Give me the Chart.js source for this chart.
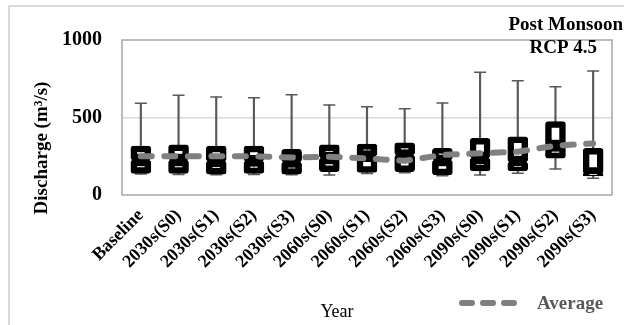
<!DOCTYPE html>
<html>
<head>
<meta charset="utf-8">
<script src="https://cdn.jsdelivr.net/npm/chart.js@4.4.1/dist/chart.umd.min.js"></script>
<style>
  html, body { margin: 0; padding: 0; background: #fff; }
  #wrap { position: relative; width: 624px; height: 325px; overflow: hidden; }
  #frame { position: absolute; left: 8px; top: 5px; width: 700px; height: 400px;
           border: 2px solid #d9d9d9; pointer-events: none; }
</style>
</head>
<body>
<div id="wrap">
  <canvas id="chart" width="624" height="325"></canvas>
  <div id="frame"></div>
</div>
<script>
/* ---- Data ---- */

const categories = [
  "Baseline", "2030s(S0)", "2030s(S1)", "2030s(S2)", "2030s(S3)",
  "2060s(S0)", "2060s(S1)", "2060s(S2)", "2060s(S3)",
  "2090s(S0)", "2090s(S1)", "2090s(S2)", "2090s(S3)",
];

const maxVals = [592, 643, 632, 628, 647, 581, 570, 557, 594, 792, 737, 699, 800];
const q3Vals = [316, 323, 316, 316, 295, 323, 329, 337, 301, 366, 376, 473, 301];
const medianVals = [226, 226, 219, 219, 213, 239, 252, 258, 226, 239, 213, 316, 140];
const q1Vals = [140, 140, 135, 140, 135, 150, 145, 150, 129, 155, 155, 237, 123];
const minVals = [135, 132, 130, 133, 130, 129, 138, 144, 125, 129, 140, 168, 108];
const averageVals = [250, 250, 250, 250, 242, 247, 236, 221, 258, 269, 279, 318, 333];

const yTicks = [0, 500, 1000];

/* ---- Theme ---- */

const serif = "'Liberation Serif', 'Times New Roman', serif";
const whiskerColor = "#595959";
const averageColor = "#808080";
const frameColor = "#a6a6a6";

const boxStyle = {
  type: "bar",
  backgroundColor: "#ffffff",
  borderColor: "#000000",
  borderWidth: 6.5,
  borderSkipped: false,
  borderRadius: 3,
  barThickness: 20,
  grouped: false,
  order: 2,
};

const capStyle = {
  type: "line",
  showLine: false,
  pointStyle: "line",
  pointRadius: 6,
  pointHoverRadius: 6,
  pointBorderColor: whiskerColor,
  pointBorderWidth: 1.5,
  borderColor: whiskerColor,
  order: 3,
};

/* ---- Extra drawing: plot frame, titles, legend ---- */

const decorations = {
  id: "decorations",
  beforeDatasetsDraw(chart) {
    const { ctx, chartArea: a } = chart;
    ctx.save();
    ctx.strokeStyle = frameColor;
    ctx.lineWidth = 1.5;
    ctx.strokeRect(a.left, a.top, a.right - a.left, a.bottom - a.top);
    ctx.restore();
  },
  afterDraw(chart) {
    const { ctx } = chart;
    ctx.save();
    ctx.fillStyle = "#000";
    ctx.textBaseline = "alphabetic";

    ctx.font = `bold 19px ${serif}`;
    ctx.textAlign = "right";
    ctx.fillText("Post Monsoon", 623, 30);
    ctx.fillText("RCP 4.5", 597, 53);

    ctx.save();
    ctx.translate(47, 148);
    ctx.rotate(-Math.PI / 2);
    ctx.textAlign = "center";
    ctx.fillText("Discharge (m\u00b3/s)", 0, 0);
    ctx.restore();

    ctx.font = `18px ${serif}`;
    ctx.textAlign = "center";
    ctx.fillText("Year", 337, 317);

    // legend: dashed average line
    ctx.strokeStyle = averageColor;
    ctx.lineWidth = 6;
    ctx.lineCap = "round";
    ctx.setLineDash([10, 11]);
    ctx.beginPath();
    ctx.moveTo(462, 303);
    ctx.lineTo(514, 303);
    ctx.stroke();
    ctx.setLineDash([]);

    ctx.font = `bold 19px ${serif}`;
    ctx.fillStyle = whiskerColor;
    ctx.textAlign = "left";
    ctx.fillText("Average", 537, 309);
    ctx.restore();
  },
};

/* ---- Chart ---- */

new Chart(document.getElementById("chart"), {
  data: {
    labels: categories,
    datasets: [
      {
        type: "bar",
        label: "Range",
        data: minVals.map((v, i) => [v, maxVals[i]]),
        backgroundColor: whiskerColor,
        barThickness: 1.5,
        grouped: false,
        order: 4,
      },
      { ...capStyle, label: "Max", data: maxVals },
      { ...capStyle, label: "Min", data: minVals },
      { ...boxStyle, label: "Q1-Median", data: q1Vals.map((v, i) => [v, medianVals[i]]) },
      { ...boxStyle, label: "Median-Q3", data: medianVals.map((v, i) => [v, q3Vals[i]]) },
      {
        type: "line",
        label: "Average",
        data: averageVals,
        borderColor: averageColor,
        borderWidth: 6,
        borderDash: [11, 12.5],
        borderCapStyle: "round",
        pointRadius: 0,
        fill: false,
        tension: 0,
        order: 0,
      },
    ],
  },
  options: {
    responsive: false,
    animation: false,
    events: [],
    layout: { padding: { left: 0, top: 40, right: 12, bottom: 0 } },
    plugins: {
      legend: { display: false },
      tooltip: { enabled: false },
    },
    scales: {
      x: {
        type: "category",
        grid: { display: false },
        border: { display: false },
        ticks: {
          color: "#000",
          font: { family: serif, size: 18, weight: "bold" },
          minRotation: 45,
          maxRotation: 45,
          autoSkip: false,
          padding: 2,
        },
        afterFit: (scale) => { scale.height = 130; },
      },
      y: {
        min: 0,
        max: 1000,
        afterBuildTicks: (scale) => { scale.ticks = yTicks.map((v) => ({ value: v })); },
        grid: {
          drawTicks: false,
          color: (c) => (c.tick && c.tick.value === 500 ? "#d9d9d9" : "rgba(0,0,0,0)"),
          lineWidth: 1.5,
        },
        border: { display: false },
        ticks: {
          color: "#000",
          font: { family: serif, size: 20, weight: "bold" },
          padding: 20,
          callback: (value) => String(value),
        },
        afterFit: (scale) => { scale.width = 122; },
      },
    },
  },
  plugins: [decorations],
});
</script>
</body>
</html>
